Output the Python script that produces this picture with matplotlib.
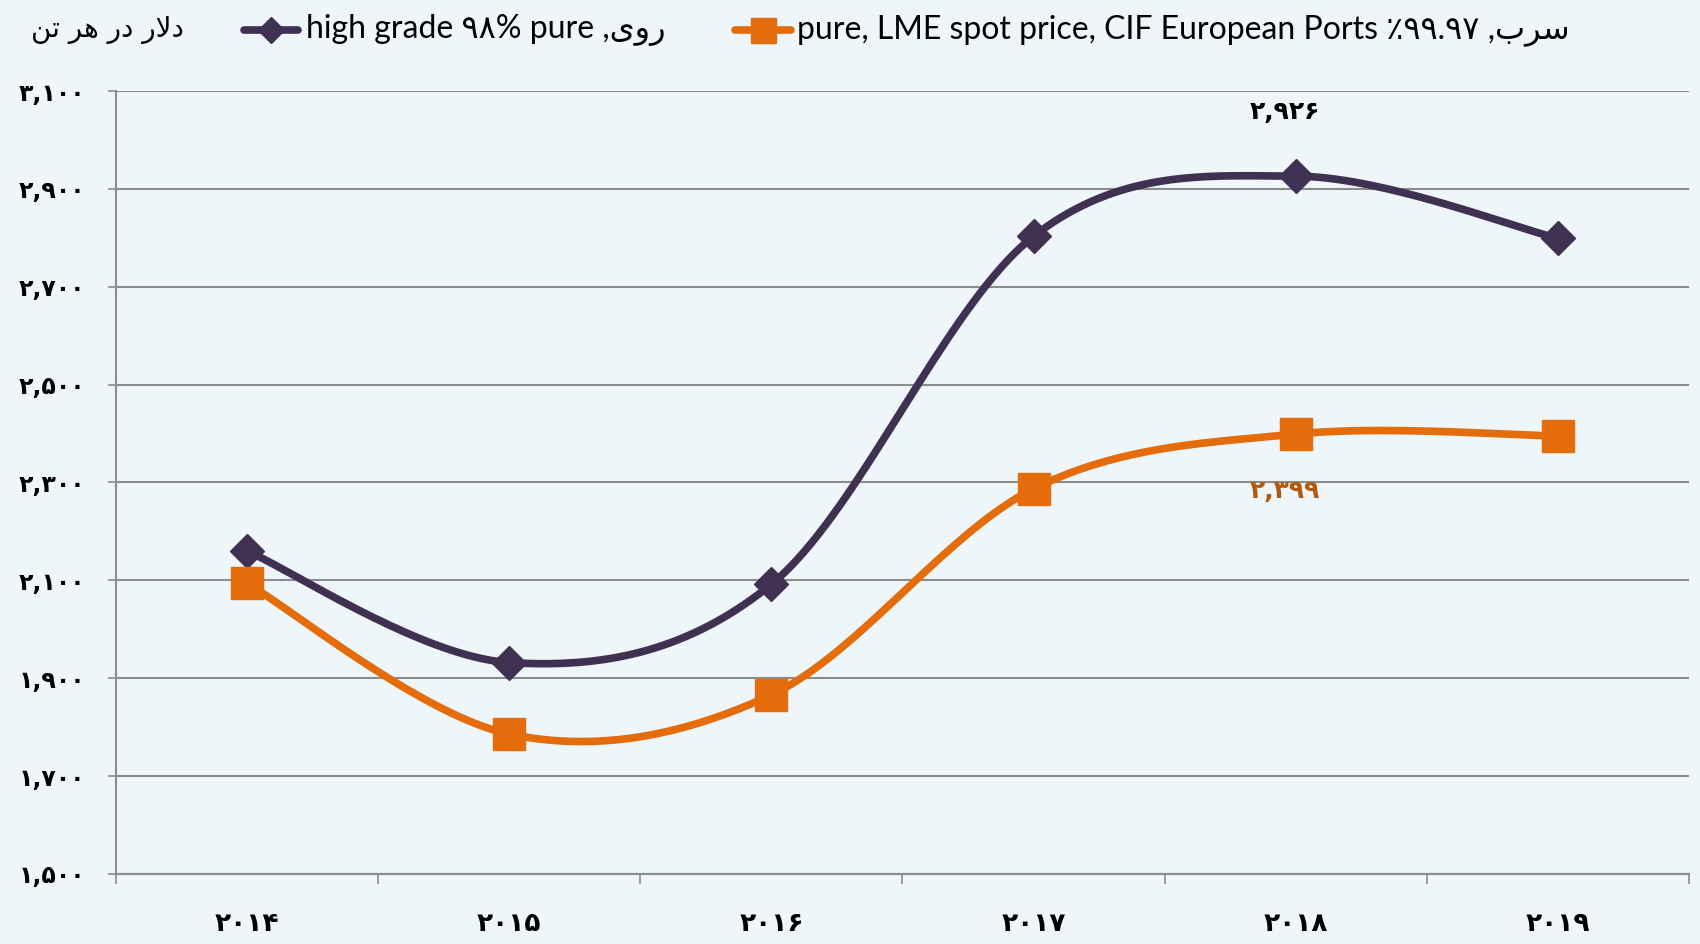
import matplotlib
matplotlib.use("Agg")
import matplotlib.pyplot as plt
from matplotlib.lines import Line2D
import numpy as np

# data
years = [2014, 2015, 2016, 2017, 2018, 2019]
zinc = [2160, 1932, 2092, 2803, 2926, 2799]
lead = [2094, 1786, 1866, 2287, 2399, 2395]
y_ticks = [1500, 1700, 1900, 2100, 2300, 2500, 2700, 2900, 3100]

zinc_color = '#403152'
lead_color = '#E46C0A'
lead_label_color = '#B35A0F'
bg = '#EEF6FA'
grid_color = '#8C8C8C'

FA_DIGITS = str.maketrans('0123456789', '۰۱۲۳۴۵۶۷۸۹')

# isolated, final, initial, medial
FORMS = {
    'ا': ('\uFE8D', '\uFE8E', None, None),
    'د': ('\uFEA9', '\uFEAA', None, None),
    'ر': ('\uFEAD', '\uFEAE', None, None),
    'و': ('\uFEED', '\uFEEE', None, None),
    'ل': ('\uFEDD', '\uFEDE', '\uFEDF', '\uFEE0'),
    'ه': ('\uFEE9', '\uFEEA', '\uFEEB', '\uFEEC'),
    'ت': ('\uFE95', '\uFE96', '\uFE97', '\uFE98'),
    'ن': ('\uFEE5', '\uFEE6', '\uFEE7', '\uFEE8'),
    'ی': ('\uFBFC', '\uFBFD', '\uFBFE', '\uFBFF'),
    'س': ('\uFEB1', '\uFEB2', '\uFEB3', '\uFEB4'),
    'ب': ('\uFE8F', '\uFE90', '\uFE91', '\uFE92'),
}


def shape(text):
    # very small persian shaper: contextual forms, then visual (reversed) order
    out = []
    chars = list(text)
    i = 0
    while i < len(chars):
        c = chars[i]
        if c not in FORMS:
            out.append(c)
            i += 1
            continue
        prev = chars[i - 1] if i > 0 else None
        joins_prev = prev in FORMS and FORMS[prev][2] is not None
        if c == 'ل' and i + 1 < len(chars) and chars[i + 1] == 'ا':
            out.append('\uFEFC' if joins_prev else '\uFEFB')
            i += 2
            continue
        nxt = chars[i + 1] if i + 1 < len(chars) else None
        joins_next = FORMS[c][2] is not None and nxt in FORMS
        iso, fin, ini, med = FORMS[c]
        if joins_prev and joins_next:
            out.append(med)
        elif joins_prev:
            out.append(fin)
        elif joins_next:
            out.append(ini)
        else:
            out.append(iso)
        i += 1
    return ''.join(reversed(out))


def fa(n):
    return f'{n:,}'.translate(FA_DIGITS)


def smooth(xs, ys, ax_w, ax_h, x0, x1, y0, y1, n=40):
    # catmull-rom style bezier like excel's smoothed line, done in pixel space
    px = (np.array(xs, float) - x0) / (x1 - x0) * ax_w
    py = (np.array(ys, float) - y0) / (y1 - y0) * ax_h
    pts = np.column_stack([px, py])
    t = np.linspace(0, 1, n)[:, None]
    segs = []
    for i in range(len(pts) - 1):
        p0 = pts[max(i - 1, 0)]
        p1 = pts[i]
        p2 = pts[i + 1]
        p3 = pts[min(i + 2, len(pts) - 1)]
        c1 = p1 + (p2 - p0) / 6
        c2 = p2 - (p3 - p1) / 6
        b = ((1 - t) ** 3) * p1 + 3 * ((1 - t) ** 2) * t * c1 + 3 * (1 - t) * t ** 2 * c2 + t ** 3 * p2
        segs.append(b)
    curve = np.vstack(segs)
    cx = curve[:, 0] / ax_w * (x1 - x0) + x0
    cy = curve[:, 1] / ax_h * (y1 - y0) + y0
    return cx, cy


fig = plt.figure(figsize=(17, 9.44), dpi=100, facecolor=bg)
ax = fig.add_axes([0.0682, 0.0742, 0.9253, 0.8294])
ax.set_facecolor(bg)

x = np.arange(len(years))
xmin, xmax = -0.5, len(years) - 0.5
ymin, ymax = 1500, 3100
ax_w, ax_h = 1573, 783

for vals, col, mk, ms in [(zinc, zinc_color, 'D', 17), (lead, lead_color, 's', 23)]:
    cx, cy = smooth(x, vals, ax_w, ax_h, xmin, xmax, ymin, ymax)
    ax.plot(cx, cy, color=col, lw=5.5, solid_capstyle='round', zorder=3)
    ax.plot(x, vals, ls='none', marker=mk, ms=ms, color=col, zorder=4)

ax.set_xlim(xmin, xmax)
ax.set_ylim(ymin, ymax)

ax.set_yticks(y_ticks)
ax.set_yticklabels([fa(v) for v in y_ticks], fontsize=17, fontweight='bold',
                   family=['DejaVu Sans'])
ax.set_xticks(x)
ax.set_xticklabels([str(y).translate(FA_DIGITS) for y in years], fontsize=19,
                   fontweight='bold', family=['DejaVu Sans'])
ax.set_xticks(np.arange(xmin, xmax + 0.01, 1), minor=True)
ax.tick_params(axis='x', which='major', length=0, pad=27)
ax.tick_params(axis='x', which='minor', length=7, color=grid_color, width=1.2)
ax.tick_params(axis='y', length=6, color=grid_color, width=1.2, pad=16)

ax.grid(axis='y', color=grid_color, lw=1.5)
ax.set_axisbelow(True)
for s in ['top', 'right']:
    ax.spines[s].set_visible(False)
for s in ['left', 'bottom']:
    ax.spines[s].set_color(grid_color)
    ax.spines[s].set_linewidth(1.5)

# data labels
ax.annotate(fa(zinc[4]), (x[4], zinc[4]), xytext=(-8, 46), textcoords='offset points',
            ha='center', va='center', fontsize=18, fontweight='bold', color='black')
ax.annotate(fa(lead[4]), (x[4], lead[4]), xytext=(-8, -41), textcoords='offset points',
            ha='center', va='center', fontsize=18, fontweight='bold', color=lead_label_color)

# legend row at the top
W, H = 1700, 944
ly = 1 - 30 / H
fig.text(107 / W, ly, shape('دلار در هر تن'), ha='center', va='center', fontsize=20,
         family=['DejaVu Sans'])
entries = [
    (244, 298, 271, 306, zinc_color, 'D', 13,
     'high grade ' + '98'.translate(FA_DIGITS) + '% pure ,' + shape('روی')),
    (735, 791, 763, 797, lead_color, 's', 18,
     'pure, LME spot price, CIF European Ports ٪' + '99.97'.translate(FA_DIGITS) + ' ,' + shape('سرب')),
]
for x0, x1, xm, xt, col, mk, ms, label in entries:
    fig.add_artist(Line2D([x0 / W, x1 / W], [ly, ly], transform=fig.transFigure,
                          color=col, lw=5.5, solid_capstyle='round'))
    fig.add_artist(Line2D([xm / W], [ly], transform=fig.transFigure, color=col,
                          marker=mk, ms=ms, ls='none'))
    fig.text(xt / W, ly, label, ha='left', va='center', fontsize=23,
             family=['Lato', 'DejaVu Sans'])

fig.savefig('out.png', dpi=100, facecolor=bg)
